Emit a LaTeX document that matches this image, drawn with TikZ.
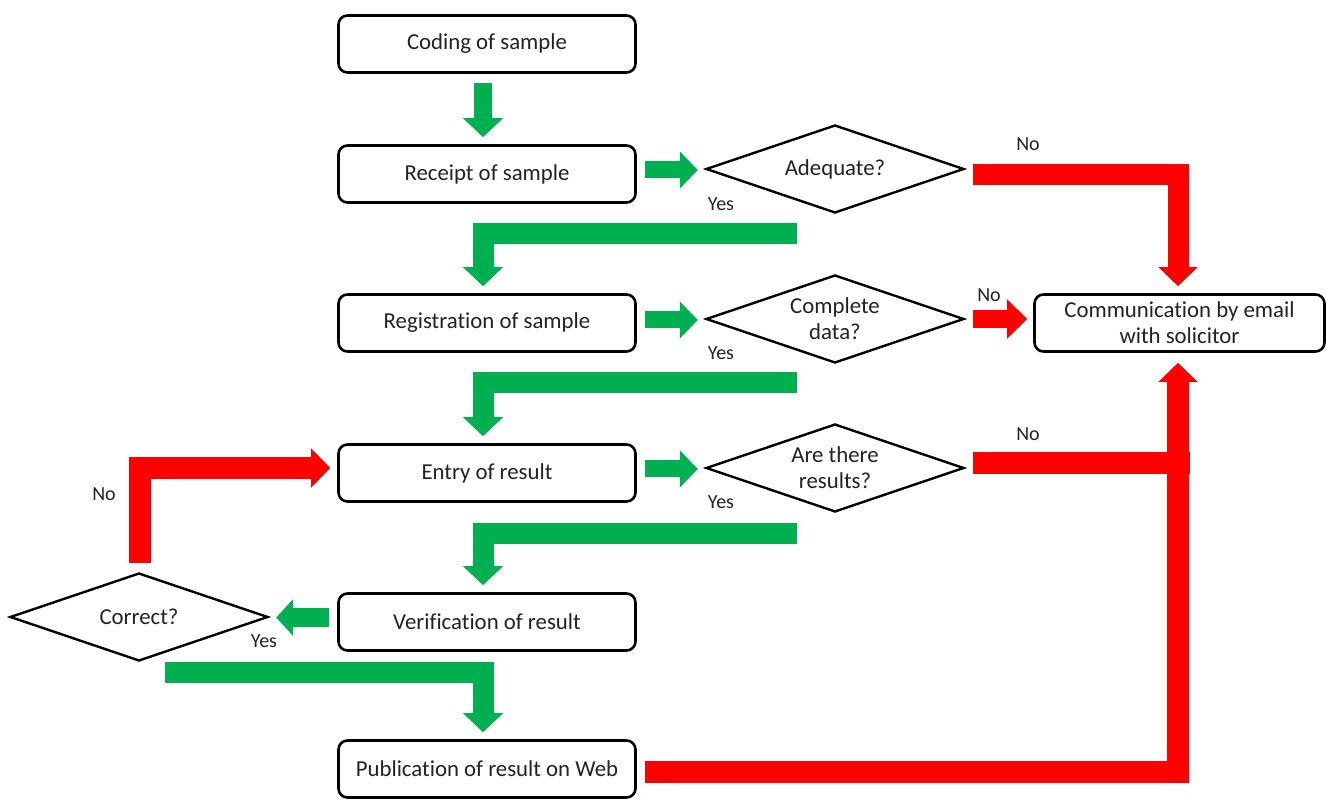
\documentclass[tikz,border=0pt]{standalone}
\usepackage{fontspec}
\setmainfont{Carlito}[Ligatures=NoCommon]
\usetikzlibrary{shapes.geometric,arrows.meta,calc}
\definecolor{gr}{RGB}{0,176,80}
\definecolor{rd}{RGB}{255,0,0}
\definecolor{tx}{RGB}{34,34,34}
\begin{document}
\begin{tikzpicture}[x=1pt,y=-1pt,
 box/.style={draw=black,line width=2.6pt,rounded corners=9pt,minimum width=297pt,minimum height=57pt,inner sep=0pt,font=\fontsize{22.8}{26}\selectfont,text=tx,align=center},
 dia/.style={draw=black,line width=2.4pt,diamond,aspect=2.9,minimum width=258pt,minimum height=88pt,inner sep=0pt,font=\fontsize{22.8}{26}\selectfont,text=tx,align=center},
 lbl/.style={font=\fontsize{20}{24}\selectfont,text=tx,inner sep=0pt},
 garr/.style={draw=gr,line width=21pt,-{Triangle[width=39pt,length=19pt]}},
 rarr/.style={draw=rd,line width=21pt,-{Triangle[width=38pt,length=19pt]}},
 rbar/.style={draw=rd,line width=22pt},
]
\useasboundingbox (0,0) rectangle (1326,799);

% process boxes
\node[box] (cod) at (487,44) {Coding of sample};
\node[box] (rec) at (487,174) {Receipt of sample};
\node[box] (reg) at (487,323) {Registration of sample};
\node[box] (ent) at (487,473) {Entry of result};
\node[box] (ver) at (487,622) {Verification of result};
\node[box] (pub) at (487,769) {Publication of result on Web};
\node[box,minimum width=290pt] (com) at (1179.5,323) {Communication by email\\with solicitor};

% decisions
\node[dia] (adq) at (835,169) {Adequate?};
\node[dia] (cmp) at (835,319) {Complete\\data?};
\node[dia] (res) at (835,468) {Are there\\results?};
\node[dia] (cor) at (139,617) {Correct?};

% free ends of the Yes connectors
\coordinate (y1) at (797,234);
\coordinate (y2) at (797,383);
\coordinate (y3) at (797,533);
\coordinate (y4) at (165,672);

% green connectors
\draw[garr,line width=18pt] ($(cod.south)+(-4,9)$) -- ($(rec.north)+(-4,-7)$);
\draw[garr,line width=17pt,-{Triangle[width=36pt,length=18pt]}] ($(rec.east)+(8,-4)$) -- ($(adq.west)+(-7,1)$);
\draw[garr] (y1) -| ($(reg.north)+(-4,-7)$);
\draw[garr,line width=17pt,-{Triangle[width=36pt,length=18pt]}] ($(reg.east)+(8,-3)$) -- ($(cmp.west)+(-7,1)$);
\draw[garr] (y2) -| ($(ent.north)+(-4,-7)$);
\draw[garr,line width=17pt,-{Triangle[width=36pt,length=18pt]}] ($(ent.east)+(8,-4)$) -- ($(res.west)+(-7,1)$);
\draw[garr] (y3) -| ($(ver.north)+(-4,-7)$);
\draw[garr,line width=19pt,-{Triangle[width=36pt,length=17pt]}] ($(ver.west)+(-8,-4.5)$) -- ($(cor.east)+(7,0.5)$);
\draw[garr] (y4) -| ($(pub.north)+(-4,-7)$);

% red connectors
\draw[rarr] ($(adq.east)+(8,5.5)$) -| ($(com.north)+(-1.5,-7)$);
\draw[rarr,line width=18pt,-{Triangle[width=38pt,length=20pt]}] ($(cmp.east)+(8,0)$) -- ($(com.west |- cmp.east)+(-6,0)$);
\draw[rbar] ($(res.east)+(8,-5)$) -- ($(com.south |- res.east)+(10,-5)$);
\draw[rarr,line width=22pt] ($(pub.east)+(8,2.5)$) -| ($(com.south)+(-1.5,10)$);
\draw[rarr,line width=22pt] ($(cor.north)+(0.5,-9)$) |- ($(ent.west)+(-7,-5)$);

% labels
\node[lbl] (no1) at (1028,144) {No};
\node[lbl] (no2) at (989,295) {No};
\node[lbl] (no3) at (1028,434) {No};
\node[lbl] (no4) at (104,494) {No};
\node[lbl] (ys1) at (721,204) {Yes};
\node[lbl] (ys2) at (721,353) {Yes};
\node[lbl] (ys3) at (721,502) {Yes};
\node[lbl] (ys4) at (264,641) {Yes};
\end{tikzpicture}
\end{document}
